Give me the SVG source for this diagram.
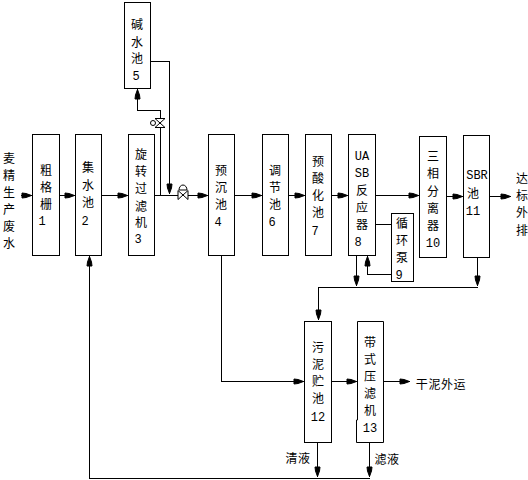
<svg xmlns="http://www.w3.org/2000/svg" width="528" height="480" viewBox="0 0 528 480">
<style>
text{font-family:"Noto Sans CJK SC","Liberation Serif",sans-serif;font-size:12px;fill:#000;text-anchor:middle}
.b{fill:#fff;stroke:#000;stroke-width:1}
.c{fill:none;stroke:#000;stroke-width:1;shape-rendering:crispEdges}
.a{fill:none;stroke:#000;stroke-width:1;shape-rendering:crispEdges;marker-end:url(#ah)}
.v{fill:#fff;stroke:#000;stroke-width:1}
.l{font-family:"Liberation Mono",monospace;font-size:12px}
.h{letter-spacing:.6px}
.m{fill:#000;stroke:#000;stroke-width:1}
</style>
<defs><marker id="ah" markerUnits="userSpaceOnUse" markerWidth="12" markerHeight="10" refX="11" refY="5" orient="auto"><path class="m" d="M1,2.500L5,3L10.500,5L5,7L1,7.500Z"/></marker></defs>
<rect width="528" height="480" fill="#fff"/>
<g id="connectors">
<path class="a" d="M20.500 195.500H32"/>
<path class="a" d="M60 195.500H75"/>
<path class="a" d="M102 195.500H128"/>
<path class="a" d="M155 195.500H208"/>
<path class="a" d="M235 195.500H262"/>
<path class="a" d="M288 195.500H305"/>
<path class="a" d="M331 195.500H348"/>
<path class="a" d="M375 195.500H419"/>
<path class="a" d="M447 196.500H463"/>
<path class="a" d="M489 196.500H511"/>
<path class="a" d="M160.500 195V110.500H137.500V89"/>
<path class="a" d="M151 61.500H169.500V194"/>
<path class="c" d="M375 224.500H391"/>
<path class="a" d="M391 274.500H367.500V256"/>
<path class="a" d="M356.500 255V286"/>
<path class="a" d="M477.500 257V286"/>
<path class="a" d="M477.500 287.500H318.500V320"/>
<path class="a" d="M221.500 255V381.500H304"/>
<path class="a" d="M332 381.500H357"/>
<path class="a" d="M383 381.500H410"/>
<path class="a" d="M317.500 442V477"/>
<path class="a" d="M369.500 442V477"/>
<path class="a" d="M369.500 478.500H89.500V256"/>
<path class="v" d="M155 118.500L165 127.500H155L165 118.500Z"/>
<circle class="v" cx="153" cy="123" r="2.500"/>
<path class="v" d="M178 190.500L188 199.500V190.500L178 199.500Z"/>
<path class="v" d="M179 190A4 5 0 0 1 187 190Z"/>
</g>
<g id="n1"><rect class="b" x="32.500" y="134.500" width="27" height="121"/><text><tspan x="46" y="175">粗</tspan><tspan x="46" y="192">格</tspan><tspan x="46" y="209">栅</tspan><tspan x="42" y="225" class="l">1</tspan></text></g>
<g id="n2"><rect class="b" x="75.500" y="134.500" width="26" height="121"/><text><tspan x="88" y="172">集</tspan><tspan x="88" y="190">水</tspan><tspan x="88" y="207">池</tspan><tspan x="85" y="225" class="l">2</tspan></text></g>
<g id="n3"><rect class="b" x="128.500" y="134.500" width="26" height="121"/><text><tspan x="141" y="159">旋</tspan><tspan x="141" y="176">转</tspan><tspan x="141" y="193">过</tspan><tspan x="141" y="211">滤</tspan><tspan x="141" y="227">机</tspan><tspan x="138" y="243" class="l">3</tspan></text></g>
<g id="n5"><rect class="b" x="124.500" y="2.500" width="26" height="86"/><text><tspan x="137" y="29">碱</tspan><tspan x="137" y="47">水</tspan><tspan x="137" y="63">池</tspan><tspan x="136" y="80" class="l">5</tspan></text></g>
<g id="n4"><rect class="b" x="208.500" y="134.500" width="26" height="121"/><text><tspan x="221" y="175">预</tspan><tspan x="221" y="192">沉</tspan><tspan x="221" y="209">池</tspan><tspan x="218" y="226" class="l">4</tspan></text></g>
<g id="n6"><rect class="b" x="262.500" y="134.500" width="26" height="121"/><text><tspan x="275" y="175">调</tspan><tspan x="275" y="192">节</tspan><tspan x="275" y="209">池</tspan><tspan x="272" y="226" class="l">6</tspan></text></g>
<g id="n7"><rect class="b" x="305.500" y="134.500" width="26" height="121"/><text><tspan x="318" y="166">预</tspan><tspan x="318" y="183">酸</tspan><tspan x="318" y="200">化</tspan><tspan x="318" y="217">池</tspan><tspan x="315" y="235" class="l">7</tspan></text></g>
<g id="n8"><rect class="b" x="348.500" y="134.500" width="27" height="121"/><text><tspan x="362" y="160" class="l">UA</tspan><tspan x="362" y="177" class="l">SB</tspan><tspan x="362" y="195">反</tspan><tspan x="362" y="212">应</tspan><tspan x="362" y="229">器</tspan><tspan x="358" y="246" class="l">8</tspan></text></g>
<g id="n9"><rect class="b" x="391.500" y="213.500" width="22" height="68"/><text><tspan x="402" y="228">循</tspan><tspan x="402" y="245">环</tspan><tspan x="402" y="262">泵</tspan><tspan x="399" y="279" class="l">9</tspan></text></g>
<g id="n10"><rect class="b" x="419.500" y="136.500" width="27" height="121"/><text><tspan x="433" y="161">三</tspan><tspan x="433" y="178">相</tspan><tspan x="433" y="196">分</tspan><tspan x="433" y="213">离</tspan><tspan x="433" y="230">器</tspan><tspan x="433" y="247" class="l">10</tspan></text></g>
<g id="n11"><rect class="b" x="463.500" y="135.500" width="26" height="122"/><text><tspan x="477" y="179" class="l">SBR</tspan><tspan x="473" y="198">池</tspan><tspan x="473" y="215" class="l">11</tspan></text></g>
<g id="n12"><rect class="b" x="304.500" y="321.500" width="27" height="121"/><text><tspan x="318" y="352">污</tspan><tspan x="318" y="369">泥</tspan><tspan x="318" y="386">贮</tspan><tspan x="318" y="403">池</tspan><tspan x="318" y="421" class="l">12</tspan></text></g>
<g id="n13"><path class="b" d="M357.500 321.500H383.500V442.500H356.500V420H357.500Z"/><text><tspan x="370" y="347">带</tspan><tspan x="370" y="364">式</tspan><tspan x="370" y="381">压</tspan><tspan x="370" y="398">滤</tspan><tspan x="370" y="415">机</tspan><tspan x="370" y="432" class="l">13</tspan></text></g>
<g id="labels">
<text><tspan x="9" y="163">麦</tspan><tspan x="9" y="180">精</tspan><tspan x="9" y="197">生</tspan><tspan x="9" y="214">产</tspan><tspan x="9" y="231">废</tspan><tspan x="9" y="248">水</tspan></text>
<text><tspan x="522" y="183">达</tspan><tspan x="522" y="200">标</tspan><tspan x="522" y="217">外</tspan><tspan x="522" y="235">排</tspan></text>
<text x="441" y="389" class="h">干泥外运</text>
<text x="298" y="463" class="h">清液</text>
<text x="387" y="464" class="h">滤液</text>
</g>
</svg>
